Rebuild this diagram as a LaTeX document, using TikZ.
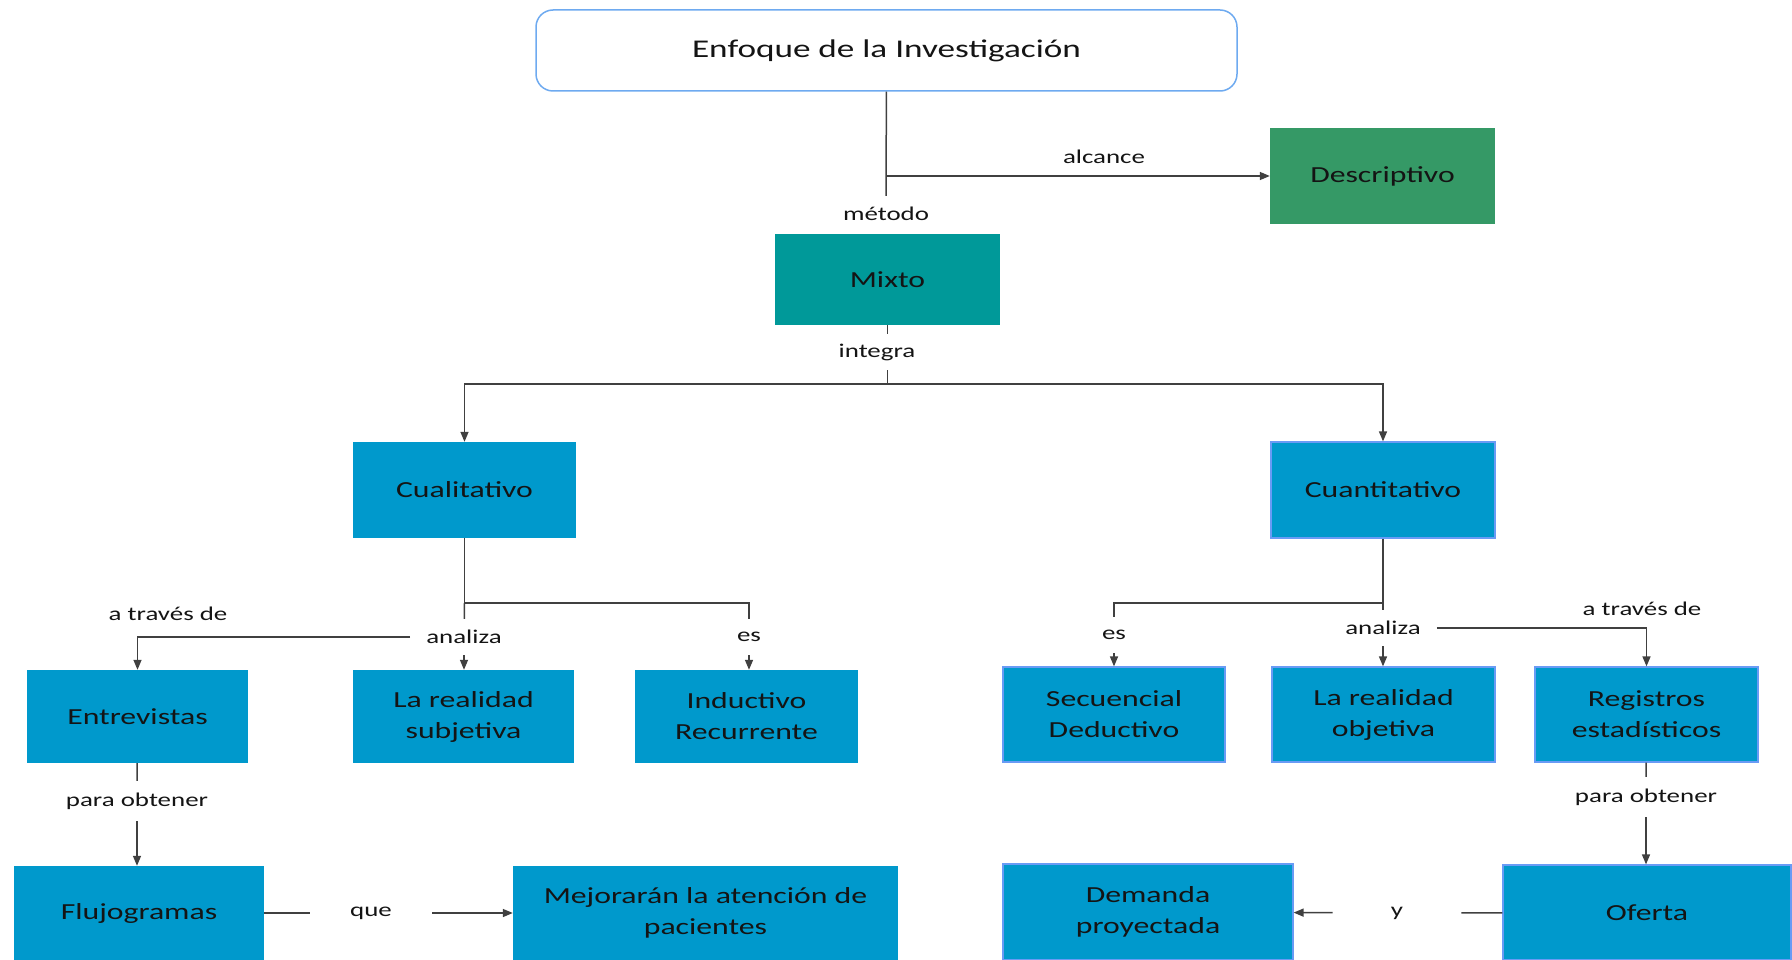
\documentclass[tikz,border=0pt]{standalone}
\usepackage{fontspec}
\setmainfont{Carlito}[FakeStretch=1.38]
\usetikzlibrary{arrows.meta}
\definecolor{boxblue}{RGB}{0,153,204}
\definecolor{boxteal}{RGB}{0,153,153}
\definecolor{boxgreen}{RGB}{53,153,102}
\definecolor{edgeblue}{RGB}{105,155,245}
\definecolor{titleedge}{RGB}{110,170,240}
\definecolor{linegray}{RGB}{64,64,64}
\definecolor{txt}{RGB}{20,20,20}
\begin{document}
\begin{tikzpicture}[x=1pt,y=-1pt,
  conn/.style={draw=linegray, line width=1.5pt},
  arr/.style={conn, -{Triangle[length=10pt,width=8pt]}},
  box/.style={fill=boxblue, text=txt, align=center, inner sep=0pt,
    font=\fontsize{23}{31}\selectfont},
  edged/.style={draw=edgeblue, line width=1.2pt},
  topbox/.style={draw=titleedge, line width=1.5pt, fill=white, rounded corners=17pt,
    text=txt, font=\fontsize{25.5}{30}\selectfont, inner sep=0pt,
    minimum width=701pt, minimum height=81pt},
  lbl/.style={text=txt, font=\fontsize{19.5}{24}\selectfont, inner xsep=16pt,
    inner ysep=0pt, minimum height=36pt}]
\useasboundingbox (0,0) rectangle (1792,960);

% concept boxes
\node[topbox] (top) at (886.5,50.5) {Enfoque de la Investigación};
\node[box, fill=boxgreen, minimum width=225pt, minimum height=96pt] (desc) at (1382.5,176) {Descriptivo};
\node[box, fill=boxteal, minimum width=225pt, minimum height=91pt] (mixto) at (887.5,279.5) {Mixto};
\node[box, minimum width=223pt, minimum height=96pt] (cual) at (464.5,490) {Cualitativo};
\node[box, edged, minimum width=224pt, minimum height=96pt] (cuan) at (1383,490) {Cuantitativo};
\node[box, minimum width=221pt, minimum height=93pt] (entrev) at (137.5,716.5) {Entrevistas};
\node[box, minimum width=221pt, minimum height=93pt] (subj) at (463.5,716.5) {La realidad\\subjetiva};
\node[box, minimum width=223pt, minimum height=93pt] (induc) at (746.5,716.5) {Inductivo\\Recurrente};
\node[box, edged, minimum width=222pt, minimum height=95pt] (secu) at (1114,714.5) {Secuencial\\Deductivo};
\node[box, edged, minimum width=223pt, minimum height=95pt] (obj) at (1383.5,714.5) {La realidad\\objetiva};
\node[box, edged, minimum width=223pt, minimum height=95pt] (regis) at (1646.5,714.5) {Registros\\estadísticos};
\node[box, minimum width=250pt, minimum height=94pt] (fluj) at (139,913) {Flujogramas};
\node[box, minimum width=385pt, minimum height=94pt] (mejor) at (705.5,913) {Mejorarán la atención de\\pacientes};
\node[box, edged, minimum width=290pt, minimum height=96pt] (dem) at (1148,912) {Demanda\\proyectada};
\node[box, edged, minimum width=288pt, minimum height=95pt] (oferta) at (1647,912.5) {Oferta};

% link words
\node[lbl] (metodo) at (886,214) {método};
\node[lbl] (alcance) at (1104,157) {alcance};
\node[lbl] (integra) at (877,352) {integra};
\node[lbl] (esL) at (749,637) {es};
\node[lbl] (anaL) at (464,637) {analiza};
\node[lbl] (atrL) at (168,614) {a través de};
\node[lbl] (esR) at (1114,635) {es};
\node[lbl] (anaR) at (1383,628) {analiza};
\node[lbl] (atrR) at (1642,609) {a través de};
\node[lbl, minimum height=40pt] (paraL) at (137,801) {para obtener};
\node[lbl, minimum height=40pt] (paraR) at (1646,797) {para obtener};
\node[lbl, inner xsep=40pt] (que) at (371,913) {que};
\node[lbl, inner xsep=58pt] (yL) at (1397,913) {y};

% junction points
\coordinate (jt) at (886.5,176);
\coordinate (jm) at (887.5,384);
\coordinate (jl) at (464.5,603);
\coordinate (jr) at (1383,603);

% connectors
\draw[conn] (top) -- (metodo);
\draw[arr] (jt) -- (desc);
\draw[conn] (mixto) -- (mixto.south |- integra.north);
\draw[conn] (mixto.south |- integra.south) -- (jm);
\draw[arr] (jm) -| (cual.north);
\draw[arr] (jm) -| (cuan.north);

\draw[conn] (cual) -- (jl) -| (esL.north);
\draw[conn] (jl) -- (anaL);
\draw[arr] (esL) -- (esL |- induc.north);
\draw[arr] (anaL) -- (anaL |- subj.north);
\draw[arr] (anaL.west) -| (entrev.north);

\draw[conn] (cuan) -- (jr) -| (esR.north);
\draw[conn] (jr) -- (anaR);
\draw[arr] (esR) -- (esR |- secu.north);
\draw[arr] (anaR) -- (anaR |- obj.north);
\draw[arr] (anaR.east) -| (regis.north);

\draw[conn] (entrev) -- (paraL);
\draw[arr] (paraL) -- (paraL |- fluj.north);
\draw[conn] (regis) -- (paraR);
\draw[arr] (paraR) -- (paraR |- oferta.north);

\draw[conn] (fluj) -- (que);
\draw[arr] (que) -- (mejor);
\draw[conn] (oferta) -- (yL);
\draw[arr] (yL) -- (dem);
\end{tikzpicture}
\end{document}
